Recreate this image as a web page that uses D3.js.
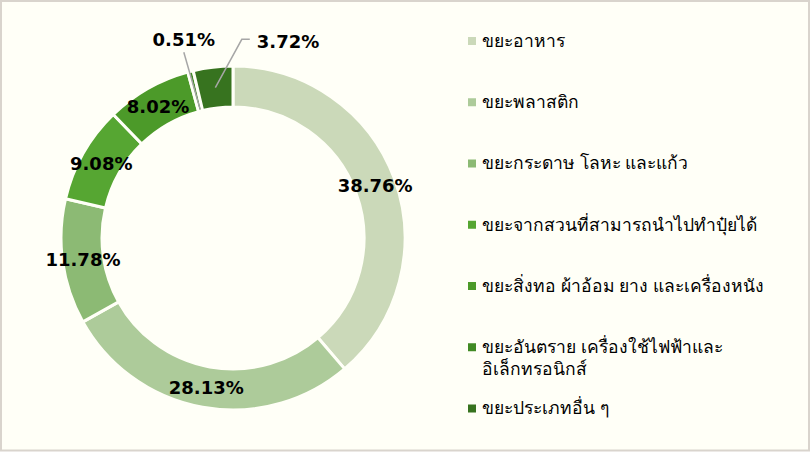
<!DOCTYPE html>
<html>
<head>
<meta charset="utf-8">
<script src="https://cdn.jsdelivr.net/npm/d3@7"></script>
<style>
  html, body { margin: 0; padding: 0; background: #fff; }
  svg { display: block; }
</style>
</head>
<body>
<div class="chart"></div>
<script>
// data
var categories = [
  "ขยะอาหาร",
  "ขยะพลาสติก",
  "ขยะกระดาษ โลหะ และแก้ว",
  "ขยะจากสวนที่สามารถนำไปทำปุ๋ยได้",
  "ขยะสิ่งทอ ผ้าอ้อม ยาง และเครื่องหนัง",
  "ขยะอันตราย เครื่องใช้ไฟฟ้าและ|อิเล็กทรอนิกส์",
  "ขยะประเภทอื่น ๆ"
];
var values = [38.76, 28.13, 11.78, 9.08, 8.02, 0.51, 3.72];
var colors = ["#cbd9b9", "#adcb9a", "#8cba74", "#56a632", "#4c9a29", "#418a24", "#37731f"];

var width = 811,
    height = 452,
    cx = 233,
    cy = 238,
    outerR = 172,
    innerR = 131;

var svg = d3.select(".chart").append("svg")
    .attr("width", width)
    .attr("height", height);

svg.append("rect")
    .attr("x", 1).attr("y", 1)
    .attr("width", width - 3).attr("height", height - 2.5)
    .attr("fill", "#fffff7")
    .attr("stroke", "#d9d4cd")
    .attr("stroke-width", 2);

var pie = d3.pie().sort(null).value(function (d) { return d; });
var arcs = pie(values);

var arc = d3.arc().innerRadius(innerR).outerRadius(outerR);
var labelArc = d3.arc().innerRadius(199).outerRadius(199);

var g = svg.append("g").attr("transform", "translate(" + cx + "," + cy + ")");

g.selectAll("path.slice")
    .data(arcs)
    .enter().append("path")
    .attr("class", "slice")
    .attr("d", arc)
    .attr("fill", function (d, i) { return colors[i]; })
    .attr("stroke", "#fffff7")
    .attr("stroke-width", 3)
    .attr("stroke-linejoin", "round");

// small slices get their label outside with a leader line
var outside = { 5: "above", 6: "right" };

function fmt(v) { return v.toFixed(2) + "%"; }

arcs.forEach(function (d, i) {
    var c = arc.centroid(d);
    var label = g.append("text")
        .attr("font-family", "'DejaVu Sans', Verdana, sans-serif")
        .attr("font-weight", "bold")
        .attr("font-size", 18)
        .attr("fill", "#000")
        .attr("dy", "0.36em")
        .text(fmt(d.value));
    if (!outside[i]) {
        label.attr("x", c[0]).attr("y", c[1]).attr("text-anchor", "middle");
        return;
    }
    var p = labelArc.centroid(d);
    var line = d3.line();
    if (outside[i] === "above") {
        label.attr("x", p[0]).attr("y", p[1] - 6).attr("text-anchor", "middle");
        var end = d3.arc().innerRadius(innerR + 2).outerRadius(innerR + 2).centroid(d);
        g.append("path")
            .attr("d", line([[p[0], p[1] + 7], end]))
            .attr("fill", "none").attr("stroke", "#a6a6a6").attr("stroke-width", 1.5);
    } else {
        var lx = p[0] + 47, ly = p[1] + 1;
        label.attr("x", lx).attr("y", ly).attr("text-anchor", "start");
        g.append("path")
            .attr("d", line([[lx - 7, ly - 2], [lx - 15, ly - 2], c]))
            .attr("fill", "none").attr("stroke", "#a6a6a6").attr("stroke-width", 1.5);
    }
});

// legend
var legendY = d3.scalePoint()
    .domain(d3.range(categories.length))
    .range([40.5, 408]);

var legend = svg.append("g").selectAll("g")
    .data(categories)
    .enter().append("g")
    .attr("transform", function (d, i) { return "translate(468," + legendY(i) + ")"; });

legend.append("rect")
    .attr("x", 0).attr("y", -3.5)
    .attr("width", 8).attr("height", 8)
    .attr("fill", function (d, i) { return colors[i]; });

legend.append("text")
    .attr("font-family", "Tahoma, 'Noto Sans', 'DejaVu Sans', sans-serif")
    .attr("font-size", 17.5)
    .attr("fill", "#000")
    .selectAll("tspan")
    .data(function (d) { return d.split("|"); })
    .enter().append("tspan")
    .attr("x", 14)
    .attr("y", function (d, j) { return j * 22; })
    .attr("dy", "0.36em")
    .text(function (d) { return d; });
</script>
</body>
</html>
